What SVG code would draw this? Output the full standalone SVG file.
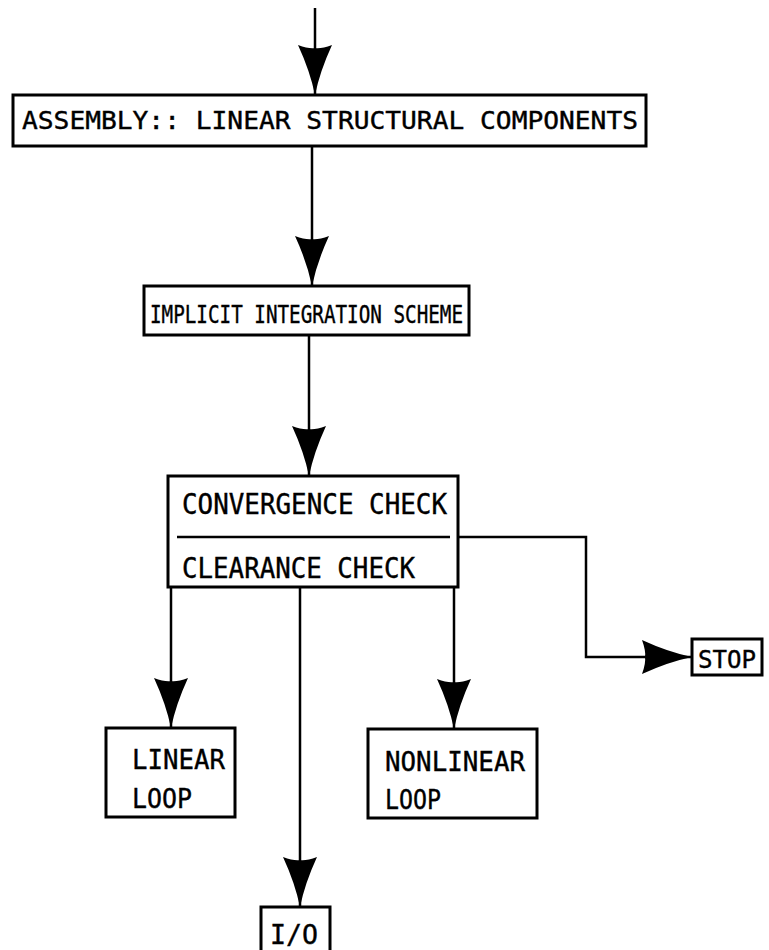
<svg xmlns="http://www.w3.org/2000/svg" width="769" height="950" viewBox="0 0 769 950">
  <style>
    .box { fill: #fff; stroke: #000; stroke-width: 3; }
    .wire { fill: none; stroke: #000; stroke-width: 2.5; }
    .lbl { font-family: "DejaVu Sans Mono", "Liberation Mono", monospace; fill: #000; stroke: #000; stroke-width: 0.4; }
  </style>
  <defs>
    <!-- dart-shaped arrowhead, tip at the end of the path -->
    <marker id="dart" markerUnits="userSpaceOnUse" viewBox="-52 -19 54 38" markerWidth="54" markerHeight="38" refX="0" refY="0" orient="auto" overflow="visible">
      <path d="M0,0 Q-24,-5 -50,-17 Q-46,-6 -47,0 Q-46,6 -50,17 Q-24,5 0,0 Z" fill="#000"/>
    </marker>
  </defs>

  <g id="connectors">
    <path class="wire" d="M315,8 V95" marker-end="url(#dart)"/>
    <path class="wire" d="M312,146 V286" marker-end="url(#dart)"/>
    <path class="wire" d="M309,335 V476" marker-end="url(#dart)"/>
    <path class="wire" d="M458,537 H586 V657 H692" marker-end="url(#dart)"/>
    <path class="wire" d="M171,587 V728" marker-end="url(#dart)"/>
    <path class="wire" d="M300,587 V907" marker-end="url(#dart)"/>
    <path class="wire" d="M454,587 V729" marker-end="url(#dart)"/>
  </g>

  <g id="assembly">
    <rect class="box" x="13" y="95" width="633" height="51"/>
    <text class="lbl" x="22" y="129" font-size="25" textLength="616" lengthAdjust="spacingAndGlyphs">ASSEMBLY:: LINEAR STRUCTURAL COMPONENTS</text>
  </g>

  <g id="implicit">
    <rect class="box" x="144" y="286" width="325" height="49"/>
    <text class="lbl" x="150" y="323" font-size="25" textLength="313" lengthAdjust="spacingAndGlyphs">IMPLICIT INTEGRATION SCHEME</text>
  </g>

  <g id="checks">
    <rect class="box" x="168" y="476" width="290" height="111"/>
    <line x1="177" y1="537" x2="450" y2="537" stroke="#000" stroke-width="2.5"/>
    <text class="lbl" x="182" y="514" font-size="28" textLength="265" lengthAdjust="spacingAndGlyphs">CONVERGENCE CHECK</text>
    <text class="lbl" x="182" y="578" font-size="28" textLength="233" lengthAdjust="spacingAndGlyphs">CLEARANCE CHECK</text>
  </g>

  <g id="stop">
    <rect class="box" x="692" y="639" width="70" height="36"/>
    <text class="lbl" x="698" y="668" font-size="25" textLength="58" lengthAdjust="spacingAndGlyphs">STOP</text>
  </g>

  <g id="linear-loop">
    <rect class="box" x="106" y="728" width="129" height="89"/>
    <text class="lbl" x="132" y="769" font-size="27" textLength="93" lengthAdjust="spacingAndGlyphs">LINEAR</text>
    <text class="lbl" x="132" y="808" font-size="27" textLength="60" lengthAdjust="spacingAndGlyphs">LOOP</text>
  </g>

  <g id="nonlinear-loop">
    <rect class="box" x="368" y="729" width="169" height="89"/>
    <text class="lbl" x="385" y="771" font-size="27" textLength="140" lengthAdjust="spacingAndGlyphs">NONLINEAR</text>
    <text class="lbl" x="385" y="809" font-size="27" textLength="56" lengthAdjust="spacingAndGlyphs">LOOP</text>
  </g>

  <g id="io">
    <rect class="box" x="261" y="907" width="69" height="46"/>
    <text class="lbl" x="270" y="944" font-size="27" textLength="48" lengthAdjust="spacingAndGlyphs">I/O</text>
  </g>
</svg>
